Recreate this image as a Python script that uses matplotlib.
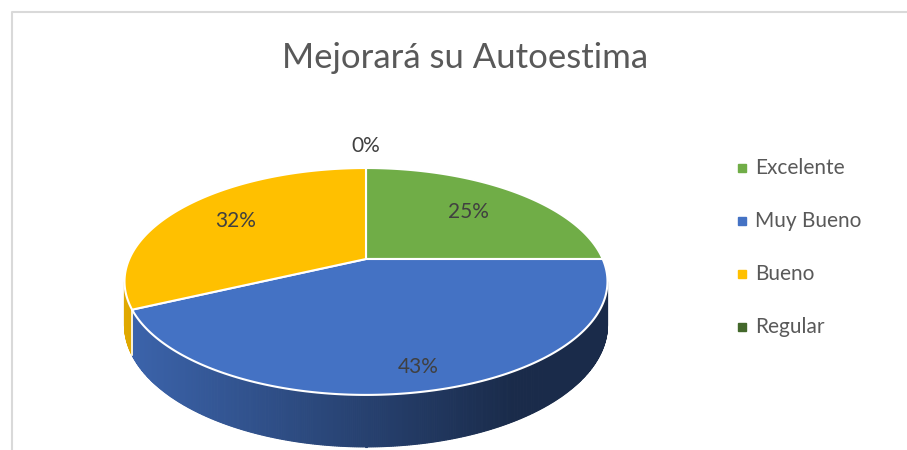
#!/usr/bin/env python
# 3D-style pie chart: Mejorará su Autoestima

import numpy as np
import matplotlib
matplotlib.use('Agg')
from matplotlib import pyplot as plt
from matplotlib.patches import Polygon

# data
title = 'Mejorará su Autoestima'
categories = ['Excelente', 'Muy Bueno', 'Bueno', 'Regular']
percentages = [25, 43, 32, 0]
colors = ['#70ad47', '#4472c4', '#ffc000', '#43682b']

# layout of the tilted pie (pixel space)
CX, CY = 366, 259
RX, RY = 236.7, 109.0
PERSP = 0.198
DEPTH = 41.7
label_r = [0.67, 0.85, 0.70, 1.30]


def project(theta, r=1.0, drop=0.0):
    # theta measured clockwise from 12 o'clock
    u = r * np.sin(theta)
    v = r * np.cos(theta)
    w = 1 + PERSP * v
    x = CX + RX * u / w
    y = CY - RY * v / w + drop * DEPTH / w
    return x, y


def shade(color, f):
    rgb = np.array(matplotlib.colors.to_rgb(color))
    return tuple(np.clip(rgb * f, 0, 1))


def main():
    plt.rcParams['font.family'] = ['Lato', 'DejaVu Sans']
    fig = plt.figure(figsize=(9.07, 4.5), dpi=100)
    ax = fig.add_axes([0, 0, 1, 1])
    ax.set_xlim(0, 907)
    ax.set_ylim(450, 0)
    ax.axis('off')

    # chart border
    ax.plot([11.5, 11.5, 907], [450, 12, 12], color='#d9d9d9', lw=1.5, zorder=1)

    total = float(sum(percentages))
    bounds = np.concatenate([[0], np.cumsum(percentages)]) / total * 2 * np.pi

    # visible part of the side wall (between left and right silhouette)
    th = np.linspace(0, 2 * np.pi, 3601)
    xs, _ = project(th)
    th_right, th_left = th[np.argmax(xs)], th[np.argmin(xs)]
    wall = np.linspace(th_right, th_left, 400)
    x_min, x_max = xs.min(), xs.max()
    for t0, t1 in zip(wall[:-1], wall[1:]):
        tm = 0.5 * (t0 + t1)
        idx = np.searchsorted(bounds, tm) - 1
        idx = min(max(idx, 0), len(colors) - 1)
        xm, _ = project(tm)
        frac = np.clip((xm - x_min) / (0.8 * (x_max - x_min)), 0, 1)
        c = shade(colors[idx], 0.88 - 0.5 * frac)
        xa, ya = project(np.array([t0, t1]))
        xb, yb = project(np.array([t1, t0]), drop=1.0)
        pts = np.column_stack([np.concatenate([xa, xb]), np.concatenate([ya, yb])])
        ax.add_patch(Polygon(pts, closed=True, facecolor=c, edgecolor=c, lw=0.8, zorder=2))

    # white seams on the wall at slice boundaries
    for b in bounds:
        if th_right < b < th_left:
            x0, y0 = project(b)
            x1, y1 = project(b, drop=1.0)
            ax.plot([x0, x1], [y0, y1], color='white', lw=1.2, zorder=2.5)

    # top faces
    for i, p in enumerate(percentages):
        if p <= 0:
            continue
        arc = np.linspace(bounds[i], bounds[i + 1], 200)
        ax_, ay_ = project(arc)
        pts = np.column_stack([np.concatenate([[CX], ax_]), np.concatenate([[CY], ay_])])
        ax.add_patch(Polygon(pts, closed=True, facecolor=colors[i], edgecolor='white',
                             lw=1.5, joinstyle='round', zorder=3))

    # data labels
    for i, p in enumerate(percentages):
        mid = 0.5 * (bounds[i] + bounds[i + 1])
        lx, ly = project(mid, r=label_r[i])
        ax.text(lx, ly, '{:d}%'.format(p), ha='center', va='center',
                fontsize=15, color='#404040', zorder=4)

    # title
    ax.text(465, 58, title, ha='center', va='center', fontsize=25,
            color='#595959')

    # legend
    for i, name in enumerate(categories):
        y = 168 + i * 53
        ax.plot([742], [y], marker='s', markersize=5.5, color=colors[i], linestyle='none')
        ax.text(755, y, name, ha='left', va='center', fontsize=15, color='#595959')

    fig.savefig('out.png', dpi=100)


if __name__ == "__main__":
    main()
